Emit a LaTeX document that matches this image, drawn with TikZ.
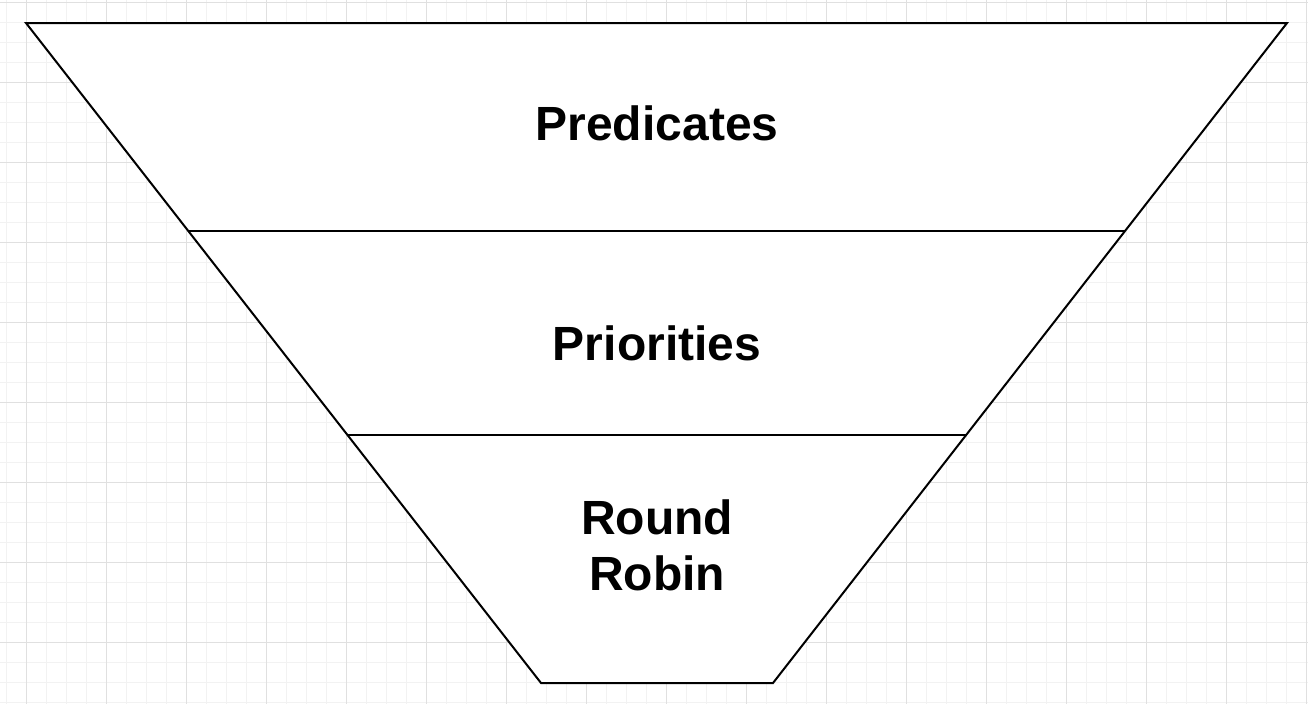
\documentclass[tikz,border=0pt]{standalone}
\usepackage{fontspec}
\setmainfont{Liberation Sans}
\usetikzlibrary{calc}
\tikzset{
  minorgrid/.style={draw=black!5, line width=1pt},
  majorgrid/.style={draw=black!12, line width=1pt},
  funnel/.style={draw=black, line width=2pt, fill=white, line join=miter},
  divider/.style={draw=black, line width=1.6pt},
  label/.style={font=\fontsize{48}{56}\selectfont\bfseries, align=center, inner sep=0pt},
}
\begin{document}
\begin{tikzpicture}[x=1pt,y=-1pt]
\useasboundingbox (0,0) rectangle (1308,704);
\fill[white] (0,0) rectangle (1308,704);
% grid
\foreach \x in {6,26,...,1306} \draw[minorgrid] (\x,0) -- (\x,704);
\foreach \y in {2,22,...,702} \draw[minorgrid] (0,\y) -- (1308,\y);
\foreach \x in {26,106,...,1306} \draw[majorgrid] (\x,0) -- (\x,704);
\foreach \y in {2,82,...,702} \draw[majorgrid] (0,\y) -- (1308,\y);
% funnel
\coordinate (tl) at (26,23);
\coordinate (tr) at (1287,23);
\coordinate (br) at (773,683);
\coordinate (bl) at (541,683);
\draw[funnel] (tl) -- (tr) -- (br) -- (bl) -- cycle;
\coordinate (d1l) at ($(tl)!208/660!(bl)$);
\coordinate (d1r) at ($(tr)!208/660!(br)$);
\coordinate (d2l) at ($(tl)!412/660!(bl)$);
\coordinate (d2r) at ($(tr)!412/660!(br)$);
\draw[divider] (d1l) -- (d1r);
\draw[divider] (d2l) -- (d2r);
% labels
\node[label, anchor=base] (pred) at (657,140) {Predicates};
\node[label, anchor=base] (prio) at (657,360) {Priorities};
\node[label, anchor=base] (rr) at (657,590) {Round\\Robin};
\end{tikzpicture}
\end{document}
